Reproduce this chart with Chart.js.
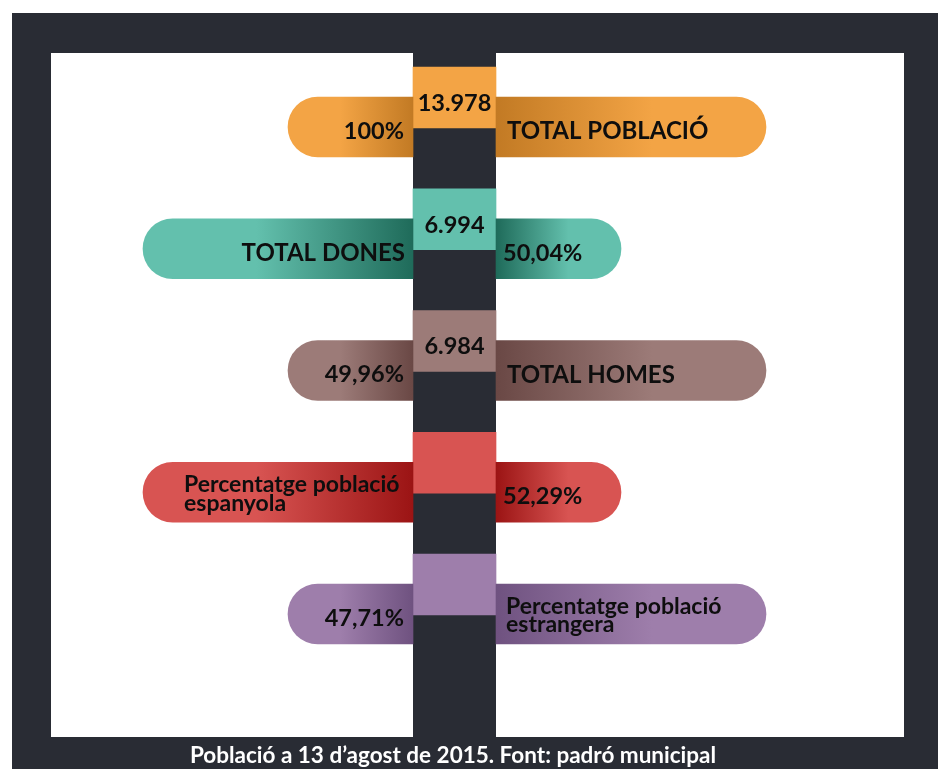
<!DOCTYPE html>
<html lang="ca">
<head>
<meta charset="utf-8">
<title>Població a 13 d'agost de 2015</title>
<script src="https://cdn.jsdelivr.net/npm/chart.js@4.4.1/dist/chart.umd.min.js"></script>
<style>
    html, body { margin: 0; padding: 0; background: #fff; }
    body { width: 938px; height: 769px; position: relative; overflow: hidden; }
    .frame { position: absolute; left: 12px; top: 13px; width: 926px; height: 756px; background: #292c34; }
    .sheet { position: absolute; left: 51px; top: 53px; width: 853px; height: 684px; background: #fff; }
    .spine { position: absolute; left: 413px; top: 53px; width: 83px; height: 684px; background: #292c34; }
    #populationChart { position: absolute; left: 0; top: 0; }
    .source { position: absolute; left: 0; top: 743px; width: 906px; text-align: center; color: #fff; font: bold 22.5px/24px Lato, 'Open Sans', sans-serif; white-space: nowrap; }
</style>
</head>
<body>
<div class="frame"></div>
<div class="sheet"></div>
<div class="spine"></div>
<canvas id="populationChart" width="938" height="769"></canvas>
<div class="source">Població a 13 d’agost de 2015. Font: padró municipal</div>
<script>
// rows of the infographic, top to bottom
const categories = [
    ['TOTAL POBLACIÓ'],
    ['TOTAL DONES'],
    ['TOTAL HOMES'],
    ['Percentatge població', 'espanyola'],
    ['Percentatge població', 'estrangera']
];
const residents = [13978, 6994, 6984, null, null];
const shares = [100, 50.04, 49.96, 52.29, 47.71];

// palette per row: flat colour and the shade next to the spine
const lights = ['#f3a445', '#63c0ad', '#9c7b78', '#d85452', '#9e7eab'];
const darks = ['#c27a24', '#1f6b5a', '#6a4845', '#9b1414', '#6f5280'];

// layout (x units are pixels measured from the middle of the spine)
const COL_HALF = 41.5;
const SHORT_ARM = 125;
const LONG_ARM = 270;
const RAMP = 0.58;

const formatCount = n => String(n).replace(/\B(?=(\d{3})+(?!\d))/g, '.');
const formatShare = v => (Number.isInteger(v) ? String(v) : v.toFixed(2).replace('.', ',')) + '%';
const labelOnRight = i => i % 2 === 0;

const armLeft = categories.map((_, i) => ({ y: i, x: [-(COL_HALF + (labelOnRight(i) ? SHORT_ARM : LONG_ARM)), -COL_HALF] }));
const armRight = categories.map((_, i) => ({ y: i, x: [COL_HALF, COL_HALF + (labelOnRight(i) ? LONG_ARM : SHORT_ARM)] }));
const boxes = categories.map((_, i) => ({ y: i, x: [-COL_HALF, COL_HALF] }));

function armFill(side) {
    return ctx => {
        const i = ctx.dataIndex;
        const chart = ctx.chart;
        if (ctx.type !== 'data' || !chart.chartArea) return lights[0];
        const sx = chart.scales.x;
        const p0 = sx.getPixelForValue(ctx.raw.x[0]);
        const p1 = sx.getPixelForValue(ctx.raw.x[1]);
        const g = chart.ctx.createLinearGradient(p0, 0, p1, 0);
        if (side === 'left') {
            g.addColorStop(0, lights[i]);
            g.addColorStop(1 - RAMP, lights[i]);
            g.addColorStop(1, darks[i]);
        } else {
            g.addColorStop(0, darks[i]);
            g.addColorStop(RAMP, lights[i]);
            g.addColorStop(1, lights[i]);
        }
        return g;
    };
}

const rowText = {
    id: 'rowText',
    afterDatasetsDraw(chart) {
        const c = chart.ctx;
        const left = chart.getDatasetMeta(0).data;
        const right = chart.getDatasetMeta(1).data;
        const box = chart.getDatasetMeta(2).data;
        c.save();
        c.fillStyle = '#0e0e0e';
        c.textBaseline = 'alphabetic';
        categories.forEach((lines, i) => {
            const L = left[i], R = right[i], B = box[i];
            const lInner = Math.max(L.x, L.base), lOuter = Math.min(L.x, L.base);
            const rInner = Math.min(R.x, R.base);

            if (residents[i] != null) {
                c.font = 'bold 23.5px Lato';
                c.textAlign = 'center';
                c.fillText(formatCount(residents[i]), (B.x + B.base) / 2, B.y + 13.5);
            }

            c.font = 'bold 23.5px Lato';
            if (labelOnRight(i)) {
                c.textAlign = 'right';
                c.fillText(formatShare(shares[i]), lInner - 9, L.y + 12);
            } else {
                c.textAlign = 'left';
                c.fillText(formatShare(shares[i]), rInner + 7, R.y + 12);
            }

            c.textAlign = lines.length === 1 && !labelOnRight(i) ? 'right' : 'left';
            if (lines.length === 1) {
                c.font = 'bold 24px Lato';
                const x = labelOnRight(i) ? rInner + 11 : lInner - 8;
                c.fillText(lines[0], x, (labelOnRight(i) ? R.y : L.y) + 12.5);
            } else {
                c.font = 'bold 23px Lato';
                const x = labelOnRight(i) ? rInner + 10 : lOuter + 41;
                const y = labelOnRight(i) ? R.y : L.y;
                lines.forEach((t, k) => c.fillText(t, x, y + k * 18.5));
            }
        });
        c.restore();
    }
};

const armCommon = {
    yAxisID: 'yPill',
    grouped: false,
    barThickness: 60,
    maxBarThickness: 60,
    borderSkipped: false,
    borderWidth: 0
};

new Chart(document.getElementById('populationChart'), {
    type: 'bar',
    data: {
        datasets: [
            { ...armCommon, label: 'left', data: armLeft, backgroundColor: armFill('left'),
              borderRadius: { topLeft: 30, bottomLeft: 30, topRight: 0, bottomRight: 0 } },
            { ...armCommon, label: 'right', data: armRight, backgroundColor: armFill('right'),
              borderRadius: { topLeft: 0, bottomLeft: 0, topRight: 30, bottomRight: 30 } },
            { label: 'box', data: boxes, yAxisID: 'yBox', grouped: false, barThickness: 61, maxBarThickness: 61,
              borderSkipped: false, borderWidth: 0, backgroundColor: lights }
        ]
    },
    options: {
        indexAxis: 'y',
        responsive: false,
        animation: false,
        events: [],
        layout: { padding: 0 },
        plugins: { legend: { display: false }, tooltip: { enabled: false }, title: { display: false } },
        scales: {
            x: { type: 'linear', display: false, min: -454.5, max: 483.5 },
            yBox: { type: 'linear', axis: 'y', display: false, reverse: true, offset: false,
                    min: -0.8008, max: 5.5156, ticks: { stepSize: 1, includeBounds: false } },
            yPill: { type: 'linear', axis: 'y', display: false, reverse: true, offset: false,
                     min: -1.0431, max: 5.2733, ticks: { stepSize: 1, includeBounds: false } }
        }
    },
    plugins: [rowText]
});
</script>
</body>
</html>
